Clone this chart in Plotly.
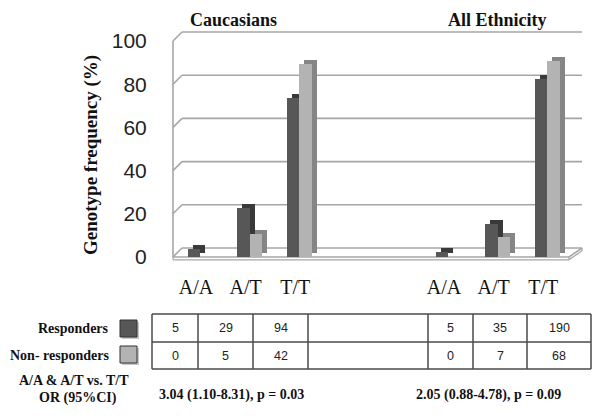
import plotly.graph_objects as go

# ---------------- data ----------------
genotypes = ["A/A", "A/T", "T/T"]
group_titles = ["Caucasians", "All Ethnicity"]
cauc_resp_pct = [3.9, 22.7, 73.4]
cauc_nonresp_pct = [0.0, 10.6, 89.4]
all_resp_pct = [2.2, 15.2, 82.6]
all_nonresp_pct = [0.0, 9.3, 90.7]
cauc_resp_n = [5, 29, 94]
cauc_nonresp_n = [0, 5, 42]
all_resp_n = [5, 35, 190]
all_nonresp_n = [0, 7, 68]
series_names = ["Responders", "Non- responders"]
or_row_label = ["A/A & A/T vs. T/T", "OR (95%CI)"]
or_values = ["3.04 (1.10-8.31), p = 0.03", "2.05 (0.88-4.78), p = 0.09"]
y_ticks = [0, 20, 40, 60, 80, 100]
y_title = "Genotype frequency (%)"

# ---------------- layout geometry (window px, page body has 8px margin) ----------------
OFF = 8
WIN_W, WIN_H = 601, 419
FIG_W, FIG_H = WIN_W - 2 * OFF, WIN_H - 2 * OFF
PL, PR, PT, PB = 169, 587, 30, 264          # plot area in window px
L, R, T, B = PL - OFF, FIG_W - (PR - OFF), PT - OFF, FIG_H - (PB - OFF)
PW, PH = FIG_W - L - R, FIG_H - T - B
X0_PX, X_SCALE = 200, 49.6
Y0_PX, Y_SCALE = 257, 2.16
xr = [(PL - X0_PX) / X_SCALE, (PR - X0_PX) / X_SCALE]
yr = [(Y0_PX - PB) / Y_SCALE, (Y0_PX - PT) / Y_SCALE]

def xpx(px):
    return (px - X0_PX) / X_SCALE

def pp(px, py):
    return (px - PL) / PW, (PB - py) / PH

cauc_pos = [0, 1, 2]
all_pos = [5, 6, 7]
positions = cauc_pos + all_pos
resp_vals = cauc_resp_pct + all_resp_pct
nonresp_vals = cauc_nonresp_pct + all_nonresp_pct

BW = 0.25
SX, SY = 0.1, 1.85
DARK, DARK_SIDE = "#575757", "#393939"
LIGHT, LIGHT_SIDE = "#b3b3b3", "#858585"
GRID = "#a6a6a6"
SERIF = "Liberation Serif"
SANS = "Liberation Sans"

fig = go.Figure()

xf0, xb0 = xpx(173), xpx(182)
xf1, xb1 = xpx(569), xpx(582)
DY = 9 / Y_SCALE
FT = 1.3  # floor thickness

shapes = []
def seg(x0, y0, x1, y1, w=1.6):
    shapes.append(dict(type="line", xref="x", yref="y", layer="below",
                       x0=x0, y0=y0, x1=x1, y1=y1, line=dict(color=GRID, width=w)))

# floor (slab outline)
seg(xf0, 0, xf1, 0)
seg(xf1, 0, xb1, DY)
seg(xb0, DY, xb1, DY)
seg(xf0, 0, xb0, DY)
seg(xf0, 0, xf0, -FT, 1.3)
seg(xf0, -FT, xf1, -FT, 1.3)
seg(xf1, -FT, xf1, 0, 1.3)
seg(xf1, -FT, xb1, DY - FT, 1.3)
seg(xb1, DY - FT, xb1, DY, 1.3)
# left wall front edge
seg(xf0, 0, xf0, 100)
# back wall gridlines + left wall diagonals
for v in y_ticks[1:]:
    seg(xf0, v, xb0, v + DY)
    seg(xb0, v + DY, xb1, v + DY)

def add_series(vals, off, front, side):
    xs = [p + off for p in positions]
    fig.add_trace(go.Bar(x=[x + SX for x in xs], y=vals, base=[SY] * len(vals),
                         width=BW, marker=dict(color=side, line=dict(width=0)),
                         showlegend=False, hoverinfo="skip"))
    fig.add_trace(go.Bar(x=xs, y=vals, width=BW,
                         marker=dict(color=front, line=dict(width=0)),
                         showlegend=False, hoverinfo="skip"))

add_series(resp_vals, -BW / 2, DARK, DARK_SIDE)
add_series(nonresp_vals, BW / 2, LIGHT, LIGHT_SIDE)

# table
TBL = "#4a4a4a"
col_x = [152, 198, 253, 308, 428, 473, 527, 591]
row_y = [314, 342, 369]
for ry in row_y:
    a = pp(col_x[0], ry); b = pp(col_x[-1], ry)
    shapes.append(dict(type="line", xref="paper", yref="paper", x0=a[0], y0=a[1], x1=b[0], y1=b[1],
                       line=dict(color=TBL, width=1.5)))
for cx in col_x:
    a = pp(cx, row_y[0]); b = pp(cx, row_y[-1])
    shapes.append(dict(type="line", xref="paper", yref="paper", x0=a[0], y0=a[1], x1=b[0], y1=b[1],
                       line=dict(color=TBL, width=1.5)))

# legend squares
for (sy, col) in [(320, DARK), (346, LIGHT)]:
    a = pp(122, sy + 2); b = pp(139, sy + 19)
    shapes.append(dict(type="rect", xref="paper", yref="paper", x0=a[0], y0=a[1], x1=b[0], y1=b[1],
                       fillcolor="#c8c8c8", line=dict(width=0)))
    a = pp(120, sy); b = pp(137, sy + 17)
    shapes.append(dict(type="rect", xref="paper", yref="paper", x0=a[0], y0=a[1], x1=b[0], y1=b[1],
                       fillcolor=col, line=dict(color="#333333", width=1)))

ann = []
def text(px, py, s, size, family=SERIF, bold=False, xanchor="center", yanchor="middle",
         color="#111111", angle=0):
    x, y = pp(px, py)
    ann.append(dict(xref="paper", yref="paper", x=x, y=y, text=f"<b>{s}</b>" if bold else s,
                    showarrow=False, xanchor=xanchor, yanchor=yanchor, textangle=angle,
                    borderpad=0, font=dict(family=family, size=size, color=color)))

text(233, OFF + 1, group_titles[0], 18, bold=True, yanchor="top")
text(497, OFF + 1, group_titles[1], 18, bold=True, yanchor="top")
text(91, 155, y_title, 19, bold=True, angle=-90)

cell_cx = [175, 225.5, 280.5, 450.5, 500, 559]
row_cy = [328, 356]
resp_n = cauc_resp_n + all_resp_n
nonresp_n = cauc_nonresp_n + all_nonresp_n
for cx, n in zip(cell_cx, resp_n):
    text(cx, row_cy[0], str(n), 12.5, family=SANS, color="#222222")
for cx, n in zip(cell_cx, nonresp_n):
    text(cx, row_cy[1], str(n), 12.5, family=SANS, color="#222222")
text(110, 328, series_names[0], 14, bold=True, xanchor="right")
text(110, 355, series_names[1], 14, bold=True, xanchor="right")
text(74, 380, or_row_label[0], 14, bold=True)
text(78, 398, or_row_label[1], 14, bold=True)
text(231, 395, or_values[0], 14, bold=True)
text(488, 395, or_values[1], 14, bold=True)

fig.update_layout(
    width=FIG_W, height=FIG_H,
    margin=dict(l=L, r=R, t=T, b=B, autoexpand=False),
    paper_bgcolor="white", plot_bgcolor="white",
    barmode="overlay", bargap=0, showlegend=False, hovermode=False,
    shapes=shapes, annotations=ann,
    xaxis=dict(range=xr, showgrid=False, zeroline=False, showline=False,
               tickmode="array", tickvals=[p - 0.08 for p in positions],
               ticktext=genotypes + genotypes, ticks="outside", ticklen=5,
               tickcolor="rgba(0,0,0,0)", tickfont=dict(family=SERIF, size=20, color="#111111")),
    yaxis=dict(range=yr, showgrid=False, zeroline=False, showline=False,
               tickmode="array", tickvals=y_ticks, ticks="outside", ticklen=17,
               tickcolor="rgba(0,0,0,0)", tickfont=dict(family=SANS, size=21, color="#222222")),
)

fig.write_html("out.html")
